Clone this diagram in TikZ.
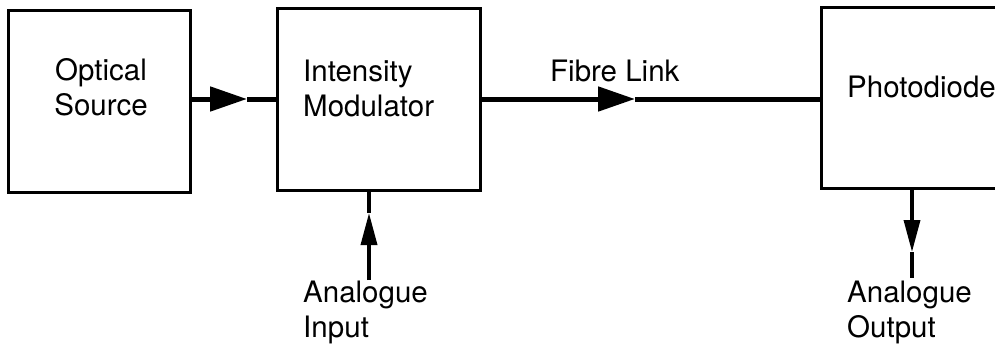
\documentclass[tikz,border=0pt]{standalone}
\usepackage{fontspec}
\setmainfont{TeX Gyre Heros}
\usetikzlibrary{arrows.meta,positioning}

\begin{document}
\begin{tikzpicture}[x=1pt,y=-1pt,
  box/.style={draw=black,line width=3pt,inner sep=0pt},
  lbl/.style={inner sep=0pt,font=\fontsize{29.5}{35}\selectfont},
  link/.style={black,line width=5pt},
  sig/.style={black,line width=3.5pt},
  bighead/.style={-{Triangle[length=37pt,width=24pt]}},
  smallhead/.style={-{Triangle[length=32pt,width=16pt]}}]
\useasboundingbox (0,0) rectangle (995,349);
\clip (0,0) rectangle (995,349);
% blocks
\node[box,minimum width=182pt,minimum height=182pt] (src) at (99,101) {};
\node[box,minimum width=203pt,minimum height=182pt] (mod) at (378.5,99) {};
\node[box,minimum width=240pt,minimum height=181pt,anchor=north west] (pd) at (820,6) {};
% texts
\node[lbl,align=center,anchor=north] (srctxt) at (101,58) {Optical\\Source};
\node[lbl,align=left,anchor=north west] (modtxt) at (303,60) {Intensity\\Modulator};
\node[lbl,anchor=north west] (fibtxt) at (550,60) {Fibre Link};
\node[lbl,anchor=north west] (pdtxt) at (847,76) {Photodiode};
\node[lbl,align=left,anchor=north west] (intxt) at (303,281) {Analogue\\Input};
\node[lbl,align=left,anchor=north west] (outtxt) at (847,281) {Analogue\\Output};
% arrow heads sit part way along
\coordinate (a1) at (247,99);
\coordinate (a2) at (635,99);
\coordinate (inp) at (369,280);
\coordinate (a3) at (369,213);
\coordinate (a4) at (912,252);
\coordinate (outp) at (912,278);
% connectors
\draw[link,bighead] (mod.west -| src.east) -- (a1);
\draw[link] (a1) -- (mod.west);
\draw[link,bighead] (mod.east) -- (a2);
\draw[link] (a2) -- (mod.east -| pd.west);
\draw[sig,smallhead] (inp) -- (a3);
\draw[sig] (a3) -- (inp |- mod.south);
\draw[sig,smallhead] (outp |- pd.south) -- (a4);
\draw[sig] (a4) -- (outp);
\end{tikzpicture}
\end{document}
